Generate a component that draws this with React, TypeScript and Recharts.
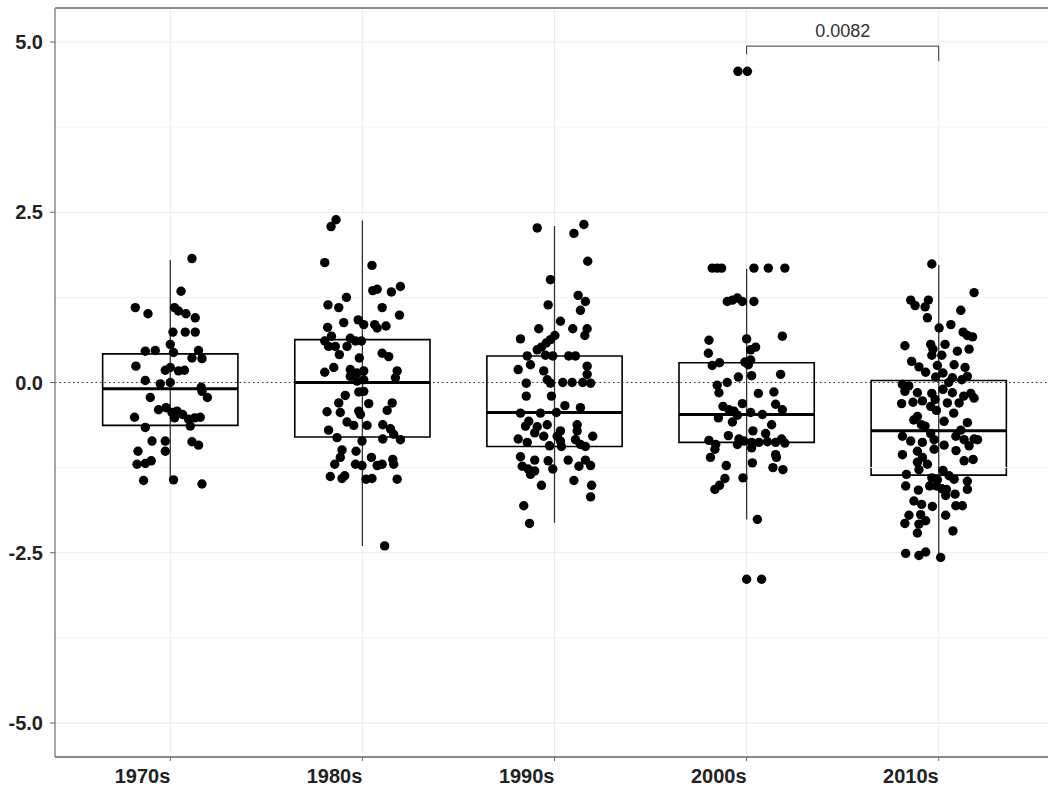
import React from "react"
import {
  ComposedChart,
  Scatter,
  XAxis,
  YAxis,
  CartesianGrid,
  ReferenceLine,
  ReferenceArea,
} from "recharts"

const decades = ["1970s", "1980s", "1990s", "2000s", "2010s"]

// each point: [horizontal jitter (category units), value]
const pts1970s = [
  [0.113, 1.82], [0.056, 1.34], [-0.182, 1.1], [-0.116, 1.01], [0.022, 1.1], [0.043, 1.05],
  [0.082, 1.01], [0.13, 0.95], [0.014, 0.74], [0.078, 0.74], [0.13, 0.74], [-0.13, 0.46],
  [-0.078, 0.47], [0, 0.56], [0.017, 0.44], [0.147, 0.47], [0.113, 0.36], [0.165, 0.35],
  [-0.179, 0.24], [-0.026, 0.18], [0, 0.22], [0.043, 0.17], [0.074, 0.18], [-0.13, 0.03],
  [-0.052, -0.02], [0, 0], [0.161, -0.07], [0.165, -0.13], [0.193, -0.22], [-0.104, -0.22],
  [-0.061, -0.4], [-0.022, -0.37], [0.009, -0.44], [0.035, -0.42], [0.064, -0.47], [0.022, -0.52],
  [0.095, -0.54], [0.127, -0.52], [0.156, -0.51], [-0.186, -0.51], [-0.13, -0.66], [0.104, -0.64],
  [-0.095, -0.86], [-0.026, -0.86], [0.113, -0.87], [0.147, -0.92], [-0.168, -1.01], [-0.026, -1.01],
  [-0.173, -1.2], [-0.13, -1.19], [-0.099, -1.15], [-0.139, -1.44], [0.017, -1.43], [0.165, -1.49],
]

const pts1980s = [
  [-0.137, 2.39], [-0.163, 2.29], [-0.196, 1.76], [0.05, 1.72], [0.054, 1.35], [0.077, 1.37],
  [0.151, 1.33], [0.198, 1.41], [-0.083, 1.25], [-0.179, 1.14], [-0.123, 1.1], [0.103, 1.1],
  [0.193, 0.99], [-0.097, 0.88], [-0.022, 0.92], [0.007, 0.85], [0.064, 0.85], [0.123, 0.83],
  [0.077, 0.8], [-0.181, 0.81], [-0.161, 0.68], [-0.196, 0.61], [-0.063, 0.65], [-0.036, 0.61],
  [-0.005, 0.61], [-0.176, 0.53], [-0.141, 0.53], [-0.08, 0.53], [-0.12, 0.41], [-0.016, 0.36],
  [0.103, 0.43], [0.137, 0.38], [-0.196, 0.15], [-0.149, 0.22], [-0.063, 0.19], [-0.028, 0.14],
  [0.007, 0.17], [0.181, 0.17], [0.172, 0.07], [-0.063, 0.09], [-0.028, 0.02], [0.007, 0.04],
  [-0.089, -0.19], [-0.019, -0.14], [0.007, -0.13], [-0.123, -0.3], [-0.184, -0.43], [-0.115, -0.44],
  [0.033, -0.31], [-0.019, -0.42], [-0.01, -0.47], [0.155, -0.3], [0.129, -0.41], [-0.08, -0.58],
  [-0.045, -0.63], [0.024, -0.63], [0.106, -0.62], [0.146, -0.68], [-0.176, -0.7], [-0.132, -0.81],
  [-0.002, -0.86], [0.106, -0.83], [0.163, -0.76], [0.198, -0.84], [-0.106, -0.99], [-0.033, -1.01],
  [-0.115, -1.1], [-0.144, -1.2], [-0.036, -1.2], [-0.002, -1.22], [0.047, -1.1], [0.077, -1.22],
  [0.103, -1.2], [0.158, -1.13], [0.163, -1.2], [-0.167, -1.38], [-0.106, -1.41], [-0.092, -1.37],
  [0.019, -1.42], [0.05, -1.41], [0.181, -1.42], [0.116, -2.4],
]

const pts1990s = [
  [-0.09, 2.27], [0.153, 2.32], [0.101, 2.19], [0.173, 1.78], [-0.021, 1.51], [0.123, 1.28],
  [0.161, 1.19], [-0.033, 1.14], [0.135, 1.06], [0.031, 0.9], [-0.082, 0.79], [0.095, 0.79],
  [0.17, 0.79], [0.002, 0.69], [0.158, 0.69], [-0.177, 0.64], [-0.021, 0.63], [-0.043, 0.58],
  [-0.068, 0.52], [-0.09, 0.48], [-0.142, 0.39], [-0.047, 0.4], [-0.009, 0.39], [0.074, 0.39],
  [0.109, 0.39], [-0.125, 0.26], [-0.189, 0.19], [-0.056, 0.17], [0.17, 0.24], [0.17, 0.12],
  [-0.147, -0.01], [-0.038, 0.04], [-0.021, -0.01], [0.043, 0], [0.092, 0], [0.147, 0],
  [0.188, -0.01], [-0.147, -0.2], [-0.016, -0.2], [0.054, -0.34], [0.135, -0.37], [-0.177, -0.45],
  [-0.073, -0.45], [0.01, -0.44], [-0.134, -0.57], [-0.151, -0.64], [-0.09, -0.65], [-0.038, -0.62],
  [0.118, -0.62], [-0.103, -0.74], [0.031, -0.71], [0.118, -0.71], [-0.056, -0.79], [0.014, -0.79],
  [0.199, -0.79], [-0.189, -0.83], [-0.142, -0.88], [0.031, -0.86], [0.109, -0.84], [-0.026, -0.93],
  [0.036, -0.94], [0.135, -0.91], [0.161, -0.94], [-0.177, -1.09], [-0.103, -1.14], [-0.033, -1.15],
  [0.071, -1.14], [0.161, -1.14], [-0.168, -1.23], [-0.137, -1.27], [-0.103, -1.3], [-0.125, -1.35],
  [-0.009, -1.27], [0.127, -1.23], [0.188, -1.22], [0.101, -1.44], [-0.068, -1.51], [0.193, -1.51],
  [0.188, -1.68], [-0.16, -1.81], [-0.13, -2.07],
]

const pts2000s = [
  [-0.045, 4.57], [0.004, 4.57],
  [-0.179, 1.68], [-0.153, 1.68], [-0.13, 1.68], [0.038, 1.68], [0.113, 1.68], [0.199, 1.68],
  [-0.101, 1.19], [-0.074, 1.21], [-0.048, 1.24], [-0.022, 1.19], [0.038, 1.19], [-0.196, 0.62],
  [0, 0.64], [0.186, 0.68], [0.047, 0.52], [0.021, 0.48], [-0.199, 0.43], [-0.179, 0.25],
  [-0.141, 0.29], [-0.009, 0.3], [0.021, 0.33], [0.009, 0.26], [-0.043, 0.08], [0.026, 0.1],
  [0.177, 0.12], [-0.101, 0], [-0.153, -0.04], [-0.144, -0.15], [0.061, -0.16], [0.142, -0.14],
  [-0.022, -0.31], [0.151, -0.32], [0.186, -0.4], [-0.123, -0.35], [-0.092, -0.4], [-0.066, -0.42],
  [-0.048, -0.48], [0.021, -0.44], [0.082, -0.47], [-0.147, -0.52], [-0.074, -0.58], [0.13, -0.62],
  [0.033, -0.71], [0.099, -0.75], [-0.095, -0.78], [-0.196, -0.85], [-0.04, -0.83], [-0.014, -0.86],
  [0.026, -0.88], [0.064, -0.88], [0.108, -0.87], [0.151, -0.88], [0.182, -0.83], [0.199, -0.89],
  [-0.161, -0.91], [-0.048, -0.91], [0.026, -0.96], [-0.165, -0.98], [0.151, -1.06], [-0.188, -1.1],
  [0.155, -1.1], [0.03, -1.18], [-0.106, -1.22], [0.137, -1.25], [0.189, -1.28], [-0.019, -1.4],
  [-0.113, -1.41], [-0.141, -1.51], [-0.165, -1.57], [0.056, -2.01], [0, -2.89], [0.078, -2.89],
]

const pts2010s = [
  [-0.036, 1.74], [0.184, 1.32], [-0.146, 1.21], [-0.123, 1.13], [-0.054, 1.21], [-0.071, 1.11],
  [0.115, 1.06], [-0.059, 0.95], [0.063, 0.85], [0.002, 0.8], [0.127, 0.74], [0.149, 0.69],
  [0.176, 0.67], [-0.176, 0.54], [-0.042, 0.56], [0.033, 0.56], [-0.03, 0.49], [0.097, 0.46],
  [0.158, 0.49], [0.016, 0.4], [-0.036, 0.4], [-0.141, 0.31], [0.08, 0.26], [-0.007, 0.25],
  [-0.103, 0.23], [0.137, 0.22], [-0.068, 0.15], [0.022, 0.14], [-0.016, 0.08], [0.071, 0.07],
  [0.12, 0.04], [0.149, 0.09], [0.052, 0], [-0.189, -0.03], [-0.156, -0.05], [-0.176, -0.13],
  [-0.111, -0.15], [-0.036, -0.16], [0.022, -0.1], [0.071, -0.15], [0.167, -0.16], [0.13, -0.2],
  [-0.193, -0.31], [-0.134, -0.29], [-0.085, -0.27], [-0.019, -0.25], [0.045, -0.3], [0.106, -0.3],
  [0.184, -0.23], [-0.042, -0.35], [-0.111, -0.5], [-0.012, -0.41], [0.078, -0.45], [0.028, -0.57],
  [0.149, -0.59], [-0.13, -0.55], [-0.071, -0.64], [-0.09, -0.62], [0.115, -0.7], [-0.042, -0.75],
  [-0.189, -0.79], [-0.146, -0.86], [-0.085, -0.88], [-0.024, -0.84], [0.028, -0.92], [0.089, -0.79],
  [0.132, -0.84], [0.184, -0.83], [0.202, -0.84], [0.158, -0.93], [0.09, -1.0], [-0.189, -1.06],
  [-0.111, -1.01], [-0.024, -0.98], [-0.085, -1.1], [-0.111, -1.17], [-0.059, -1.2], [0.132, -1.15],
  [0.179, -1.13], [-0.103, -1.28], [-0.168, -1.35], [0.022, -1.29], [-0.036, -1.4], [-0.007, -1.43],
  [0.054, -1.37], [0.08, -1.42], [0.149, -1.45], [-0.172, -1.52], [-0.106, -1.58], [-0.047, -1.52],
  [-0.012, -1.52], [0.016, -1.56], [0.04, -1.57], [0.085, -1.64], [0.149, -1.57], [0.036, -1.66],
  [-0.129, -1.74], [-0.089, -1.79], [-0.033, -1.82], [0.089, -1.81], [0.123, -1.81], [-0.155, -1.95],
  [-0.094, -1.94], [0.036, -1.95], [-0.176, -2.07], [-0.103, -2.08], [-0.068, -2.03], [0.074, -2.18],
  [-0.111, -2.21], [-0.172, -2.51], [-0.103, -2.54], [-0.068, -2.49], [0.01, -2.57],
]

// box summaries per decade
const whiskerLow = [-1.45, -2.4, -2.06, -2.01, -2.57]
const q1 = [-0.63, -0.8, -0.94, -0.88, -1.36]
const medians = [-0.09, 0.0, -0.44, -0.47, -0.71]
const q3 = [0.42, 0.63, 0.39, 0.29, 0.03]
const whiskerHigh = [1.8, 2.38, 2.3, 1.67, 1.73]

// comparison bracket 2000s vs 2010s
const pValue = "0.0082"
const bracketFrom = 4
const bracketTo = 5
const bracketY = 4.94
const bracketTips = [4.82, 4.72]

const yTicks = [-5, -2.5, 0, 2.5, 5]
const yMinor = [-3.75, -1.25, 1.25, 3.75]
const xTicks = [1, 2, 3, 4, 5]

const groups = [pts1970s, pts1980s, pts1990s, pts2000s, pts2010s]
const points = groups.flatMap((g, i) =>
  g.map(([j, v]) => ({ x: i + 1 + j, y: v }))
)

const HALF = 0.352
const FONT = "'Liberation Sans', Arial, Helvetica, sans-serif"

function XTick(props: any) {
  const { x, y, payload } = props
  return (
    <text
      x={x}
      y={y}
      dy={15}
      textAnchor="end"
      fill="#222"
      fontSize={20}
      fontWeight={700}
      fontFamily={FONT}
    >
      {decades[payload.value - 1]}
    </text>
  )
}

const Dot = (props: any) => (
  <circle cx={props.cx} cy={props.cy} r={4.7} fill="#000" />
)

export default function App() {
  return (
    <div
      style={{
        position: "fixed",
        left: 0,
        top: 0,
        width: 1048,
        height: 787,
        overflow: "hidden",
        background: "#fff",
        fontFamily: FONT,
      }}
    >
      <ComposedChart
        width={1062}
        height={787}
        margin={{ top: 8, right: 8, bottom: 0, left: 0 }}
      >
        <CartesianGrid stroke="#ebebeb" />
        {yMinor.map((v) => (
          <ReferenceLine key={"m" + v} y={v} stroke="#f4f4f4" />
        ))}
        <XAxis
          type="number"
          dataKey="x"
          domain={[0.4, 5.6]}
          ticks={xTicks}
          interval={0}
          height={30}
          tickSize={4}
          tickMargin={7}
          axisLine={{ stroke: "#666", strokeWidth: 1.5 }}
          tickLine={{ stroke: "#666" }}
          tick={<XTick />}
        />
        <YAxis
          type="number"
          dataKey="y"
          domain={[-5.5, 5.5]}
          ticks={yTicks}
          interval={0}
          width={55}
          tickSize={5}
          tickMargin={7}
          tickFormatter={(v: number) => v.toFixed(1)}
          axisLine={{ stroke: "#8c8c8c", strokeWidth: 1.5 }}
          tickLine={{ stroke: "#666" }}
          tick={{ fill: "#222", fontSize: 20, fontWeight: 700, fontFamily: FONT }}
        />
        <ReferenceLine y={5.5} stroke="#8c8c8c" strokeWidth={2} />
        <ReferenceLine y={0} stroke="#333" strokeDasharray="1.5 3" />

        {decades.map((d, i) => (
          <ReferenceLine
            key={"w" + d}
            segment={[
              { x: i + 1, y: whiskerLow[i] },
              { x: i + 1, y: whiskerHigh[i] },
            ]}
            stroke="#333"
            strokeWidth={1.3}
          />
        ))}
        {decades.map((d, i) => (
          <ReferenceArea
            key={"b" + d}
            x1={i + 1 - HALF}
            x2={i + 1 + HALF}
            y1={q1[i]}
            y2={q3[i]}
            fill="none"
            fillOpacity={0}
            stroke="#000"
            strokeWidth={1.6}
          />
        ))}
        {decades.map((d, i) => (
          <ReferenceLine
            key={"md" + d}
            segment={[
              { x: i + 1 - HALF, y: medians[i] },
              { x: i + 1 + HALF, y: medians[i] },
            ]}
            stroke="#000"
            strokeWidth={3}
          />
        ))}

        <ReferenceLine
          segment={[
            { x: bracketFrom, y: bracketY },
            { x: bracketTo, y: bracketY },
          ]}
          stroke="#333"
          label={{
            value: pValue,
            position: "top",
            offset: 9,
            fill: "#333",
            fontSize: 18,
            fontFamily: FONT,
          }}
        />
        <ReferenceLine
          segment={[
            { x: bracketFrom, y: bracketY },
            { x: bracketFrom, y: bracketTips[0] },
          ]}
          stroke="#333"
        />
        <ReferenceLine
          segment={[
            { x: bracketTo, y: bracketY },
            { x: bracketTo, y: bracketTips[1] },
          ]}
          stroke="#333"
        />

        <Scatter
          data={points}
          dataKey="y"
          shape={Dot}
          isAnimationActive={false}
        />
      </ComposedChart>
    </div>
  )
}
